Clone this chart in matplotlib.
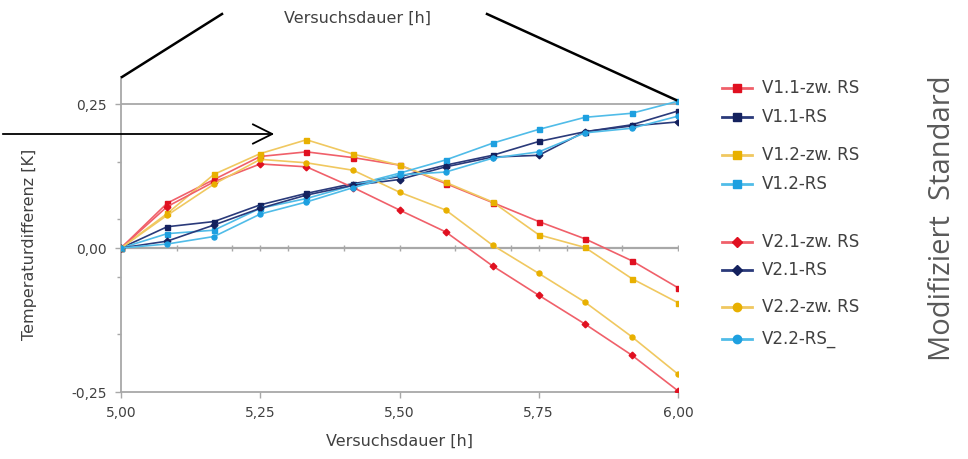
import matplotlib
matplotlib.use("Agg")
import matplotlib.pyplot as plt
from matplotlib.lines import Line2D

# Versuchsdauer [h], alle 5 Minuten
zeit = [5.0, 5.083, 5.167, 5.25, 5.333, 5.417, 5.5, 5.583, 5.667, 5.75, 5.833, 5.917, 6.0]

v11_zw = [0, 0.078, 0.119, 0.159, 0.167, 0.157, 0.144, 0.112, 0.079, 0.046, 0.016, -0.022, -0.069]
v11_rs = [0, 0.037, 0.046, 0.075, 0.095, 0.112, 0.124, 0.144, 0.161, 0.185, 0.202, 0.214, 0.238]
v12_zw = [0, 0.060, 0.128, 0.164, 0.188, 0.163, 0.144, 0.114, 0.080, 0.023, 0.001, -0.053, -0.095]
v12_rs = [0, 0.025, 0.031, 0.069, 0.086, 0.109, 0.130, 0.153, 0.182, 0.206, 0.227, 0.234, 0.255]
v21_zw = [0, 0.072, 0.115, 0.146, 0.141, 0.105, 0.066, 0.028, -0.031, -0.082, -0.132, -0.186, -0.248]
v21_rs = [0, 0.012, 0.040, 0.069, 0.092, 0.109, 0.119, 0.141, 0.158, 0.161, 0.202, 0.212, 0.219]
v22_zw = [0, 0.057, 0.111, 0.154, 0.148, 0.135, 0.097, 0.066, 0.005, -0.044, -0.094, -0.154, -0.219]
v22_rs = [0, 0.007, 0.020, 0.059, 0.080, 0.105, 0.127, 0.132, 0.156, 0.167, 0.200, 0.208, 0.229]

x_ticks = [5.0, 5.25, 5.5, 5.75, 6.0]
x_labels = ["5,00", "5,25", "5,50", "5,75", "6,00"]
y_ticks = [-0.25, 0.0, 0.25]
y_labels = ["-0,25", "0,00", "0,25"]

# name, data, line colour, marker colour, marker, legend y (px)
series = [
    ("V1.1-zw. RS", v11_zw, "#f0606a", "#e01020", "s", 88),
    ("V1.1-RS", v11_rs, "#2a3a7a", "#14215e", "s", 117),
    ("V1.2-zw. RS", v12_zw, "#f0c860", "#e8b000", "s", 155),
    ("V1.2-RS", v12_rs, "#50bce8", "#1ea0e0", "s", 184),
    ("V2.1-zw. RS", v21_zw, "#f0606a", "#e01020", "D", 242),
    ("V2.1-RS", v21_rs, "#2a3a7a", "#14215e", "D", 270),
    ("V2.2-zw. RS", v22_zw, "#f0c860", "#e8b000", "o", 307),
    ("V2.2-RS_", v22_rs, "#50bce8", "#1ea0e0", "o", 339),
]

W, H = 968, 459
fig = plt.figure(figsize=(W / 100, H / 100), dpi=100)
ax = fig.add_axes([121 / W, 1 - 392 / H, (678 - 121) / W, (392 - 77) / H])

grau = "#a8a8a8"
txt = "#404040"

for name, data, lc, mc, m, _ in series:
    ax.plot(zeit, data, color=lc, lw=1.2, marker=m, ms=3.6 if m != "D" else 3.4,
            mfc=mc, mec=mc, zorder=3)

ax.set_xlim(5.0, 6.0)
ax.set_ylim(-0.25, 0.297)
ax.axhline(0.25, color=grau, lw=1.3, zorder=1)
ax.axhline(0.0, color=grau, lw=1.6, zorder=1)
# kleine Striche auf der Nulllinie
ax.plot([5.1, 5.2, 5.25, 5.3, 5.4, 5.5, 5.6, 5.7, 5.75, 5.8, 5.9, 6.0],
        [0] * 12, ls="none", marker="|", ms=5, color=grau, mew=1, zorder=1)

for s in ["top", "right"]:
    ax.spines[s].set_visible(False)
for s in ["left", "bottom"]:
    ax.spines[s].set_color(grau)
    ax.spines[s].set_linewidth(1.3)

ax.set_xticks(x_ticks)
ax.set_xticklabels(x_labels)
ax.set_yticks(y_ticks)
ax.set_yticklabels(y_labels)
ax.set_yticks([-0.15, -0.05, 0.05, 0.15], minor=True)
ax.tick_params(axis="both", colors=grau, labelcolor=txt, labelsize=10, length=4, width=1)
ax.tick_params(axis="y", which="minor", colors=grau, length=3, width=1)
ax.tick_params(axis="x", pad=6)
ax.tick_params(axis="y", pad=6)

fig.text(400 / W, 1 - 441 / H, "Versuchsdauer [h]", ha="center", va="center", fontsize=11.5, color=txt)
fig.text(30 / W, 1 - 244 / H, "Temperaturdifferenz [K]", ha="center", va="center",
         rotation=90, fontsize=11.5, color=txt)

# obere Beschriftung mit Klammerlinien
fig.text(358 / W, 1 - 18 / H, "Versuchsdauer [h]", ha="center", va="center", fontsize=11.5, color=txt)
fig.add_artist(Line2D([122 / W, 222 / W], [1 - 77 / H, 1 - 14 / H], color="black", lw=1.8))
fig.add_artist(Line2D([487 / W, 676 / W], [1 - 14 / H, 1 - 100 / H], color="black", lw=1.8))

# Pfeil
fig.add_artist(matplotlib.patches.FancyArrowPatch(
    (0, 1 - 134 / H), (277 / W, 1 - 134 / H), transform=fig.transFigure,
    arrowstyle="->,head_length=14,head_width=7", color="black", lw=1.3))

# Legende
for name, data, lc, mc, m, ly in series:
    yy = 1 - ly / H
    fig.add_artist(Line2D([722 / W, 752 / W], [yy, yy], color=lc, lw=2))
    fig.add_artist(Line2D([737 / W], [yy], marker=m, ms=6 if m != "D" else 5.5,
                          mfc=mc, mec=mc, color=lc))
    fig.text(762 / W, yy, name, ha="left", va="center", fontsize=12, color=txt)

fig.text(943 / W, 1 - 218 / H, "Modifiziert  Standard", ha="center", va="center",
         rotation=90, fontsize=21, color="#5a5a5a", family="Open Sans")

fig.savefig("out.png", dpi=100)
